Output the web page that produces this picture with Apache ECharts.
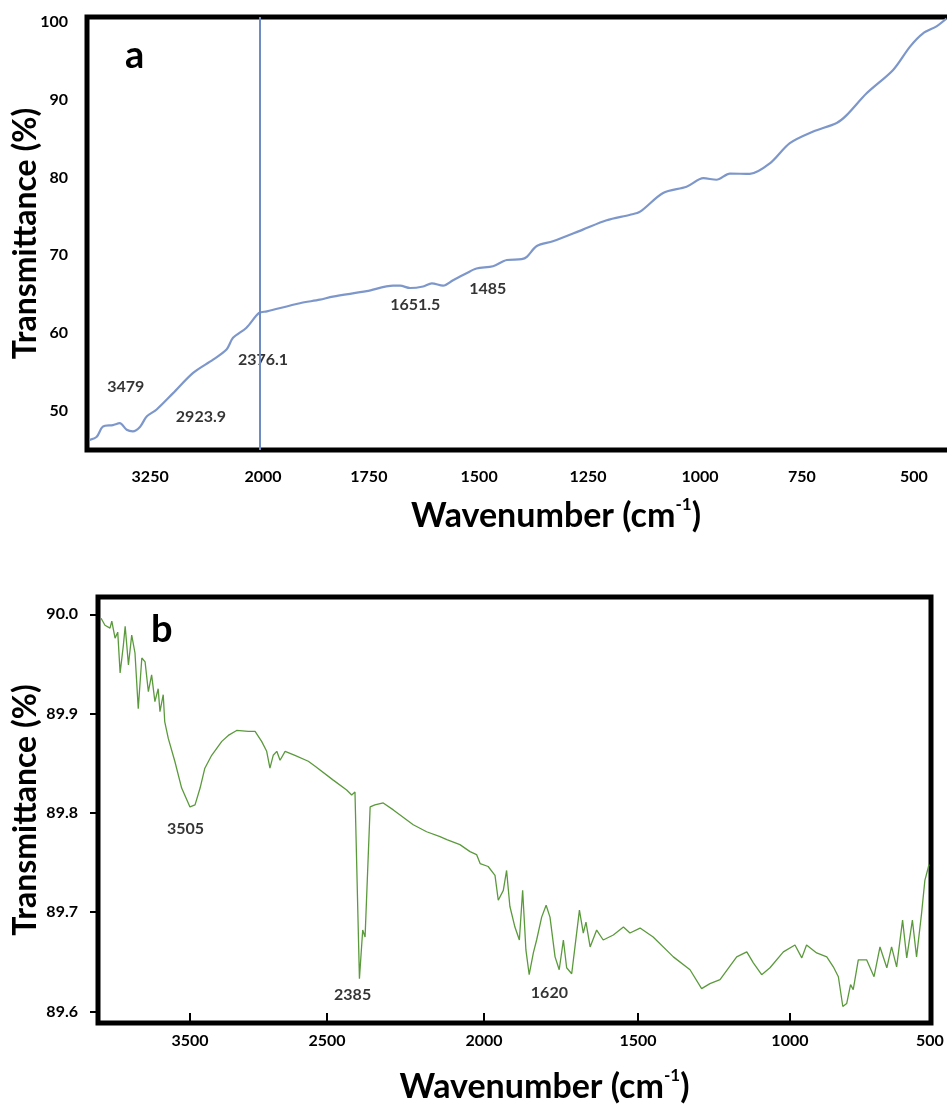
<!DOCTYPE html>
<html>
<head>
<meta charset="utf-8">
<script src="https://cdn.jsdelivr.net/npm/echarts@6/dist/echarts.min.js"></script>
<style>
html,body{margin:0;padding:0;background:#fff;}
#c{width:947px;height:1107px;}
</style>
</head>
<body>
<div id="c"></div>
<script>
// ---------- Panel a data (x in the panel's plotted wavenumber scale, y = transmittance %) ----------
var aX = [2399,2383,2369,2346,2330,2314,2300,2283,2268,2245,2207,2161,2115,2084,2069,2038,2009,1991,1915,1869,1839,1761,1700,1684,1661,1631,1611,1585,1562,1531,1508,1470,1438,1404,1392,1369,1332,1263,1208,1154,1131,1078,1024,985,955,924,878,832,786,732,678,655,609,548,509,479,448,425];
var aY = [46.3,46.7,48.0,48.2,48.45,47.6,47.4,48.0,49.3,50.2,52.3,54.9,56.6,57.9,59.4,60.7,62.6,62.8,63.85,64.3,64.7,65.4,66.1,66.1,65.8,66.0,66.4,66.1,66.8,67.7,68.3,68.6,69.4,69.5,69.8,71.2,71.8,73.3,74.5,75.2,75.6,78.0,78.8,79.9,79.7,80.5,80.45,81.8,84.4,85.9,87.0,88.0,90.8,93.8,96.8,98.5,99.4,100.4];
var aTickValues = [2260,2000,1756,1502,1251,993,758,500];
var aTickLabels = ['3250','2000','1750','1500','1250','1000','750','500'];
var aYTicks = [50,60,70,80,90,100];
var aMarkerLine = [2008];
var aPeakText = ['3479','2923.9','2376.1','1651.5','1485'];
var aPeakX = [2316,2143,2000,1649,1482];
var aPeakY = [53.17,49.26,56.64,63.63,65.69];

// ---------- Panel b data ----------
var bX = [3288,3275,3258,3252,3241,3232,3224,3213,3207,3196,3185,3174,3163,3151,3140,3129,3118,3107,3096,3090,3079,3074,3062,3040,3017,2989,2972,2955,2939,2916,2882,2860,2832,2793,2770,2748,2731,2720,2709,2697,2686,2669,2636,2591,2568,2507,2462,2445,2434,2419,2408,2400,2383,2367,2339,2305,2238,2193,2148,2125,2081,2047,2025,2013,1986,1963,1952,1935,1924,1913,1896,1881,1870,1859,1848,1834,1823,1806,1791,1778,1761,1747,1733,1722,1705,1694,1679,1666,1657,1643,1621,1599,1565,1531,1509,1475,1431,1363,1307,1268,1240,1206,1150,1116,1094,1066,1038,993,954,931,915,881,847,825,808,793,780,767,758,741,713,688,668,645,629,612,592,578,559,545,528,517,503];
var bY = [89.996,89.989,89.986,89.993,89.976,89.982,89.941,89.969,89.988,89.949,89.979,89.961,89.905,89.956,89.952,89.922,89.939,89.912,89.925,89.902,89.919,89.892,89.875,89.852,89.825,89.806,89.808,89.825,89.845,89.858,89.872,89.878,89.883,89.882,89.882,89.872,89.862,89.845,89.858,89.862,89.853,89.862,89.858,89.852,89.847,89.833,89.823,89.818,89.821,89.633,89.682,89.675,89.806,89.808,89.810,89.803,89.788,89.781,89.776,89.773,89.768,89.761,89.758,89.749,89.746,89.737,89.712,89.722,89.742,89.706,89.685,89.672,89.722,89.662,89.637,89.659,89.672,89.695,89.707,89.695,89.655,89.642,89.672,89.644,89.638,89.665,89.702,89.679,89.690,89.665,89.682,89.672,89.677,89.685,89.679,89.684,89.675,89.655,89.642,89.623,89.628,89.632,89.655,89.660,89.649,89.637,89.644,89.660,89.667,89.654,89.667,89.659,89.655,89.645,89.635,89.605,89.608,89.627,89.622,89.652,89.652,89.635,89.665,89.644,89.665,89.645,89.692,89.654,89.692,89.655,89.699,89.732,89.748];
var bTickValues = [2989,2528,2000,1482,971,500];
var bTickLabels = ['3500','2500','2000','1500','1000','500'];
var bYTicks = [89.6,89.7,89.8,89.9,90.0];
var bPeakText = ['3505','2385','1620'];
var bPeakX = [3004,2442,1780];
var bPeakY = [89.784,89.617,89.619];

function zip(xs, ys){ return xs.map(function(x,i){ return [x, ys[i]]; }); }
function peaks(txt, xs, ys){ return txt.map(function(t,i){ return {name:t, value:[xs[i], ys[i]]}; }); }
function mapLabel(vals, labs){ return function(v){ var i = vals.indexOf(v); return i < 0 ? '' : labs[i]; }; }

var FONT = 'Lato';
var nameRich = {
  n: {fontFamily: FONT, fontWeight: 'bold', fontSize: 34, color: '#000'},
  s: {fontFamily: FONT, fontWeight: 'bold', fontSize: 17, color: '#000', verticalAlign: 'top', lineHeight: 40}
};
var peakLabel = {show: true, position: 'inside', formatter: '{b}', fontFamily: FONT, fontWeight: 'bold',
                 fontSize: 16, color: '#000', textBorderWidth: 0};

var chart = echarts.init(document.getElementById('c'), null, {renderer: 'canvas'});
chart.setOption({
  backgroundColor: '#ffffff',
  animation: false,
  grid: [
    {left: 87, top: 17, width: 866, height: 433, show: true, borderColor: '#000', borderWidth: 5,
     backgroundColor: 'transparent', outerBoundsMode: 'none', containLabel: false},
    {left: 98, top: 597, width: 833, height: 426, show: true, borderColor: '#000', borderWidth: 5,
     backgroundColor: 'transparent', outerBoundsMode: 'none', containLabel: false}
  ],
  graphic: [
    {type: 'text', left: 125, top: 37, style: {text: 'a', font: 'bold 38px Lato', fill: '#000'}},
    {type: 'text', left: 151, top: 611, style: {text: 'b', font: 'bold 38px Lato', fill: '#000'}}
  ],
  xAxis: [
    {gridIndex: 0, type: 'value', inverse: true, min: 410, max: 2405.5,
     axisLine: {show: false}, axisTick: {show: false}, splitLine: {show: false},
     axisLabel: {customValues: aTickValues, formatter: mapLabel(aTickValues, aTickLabels), margin: 19,
                 fontFamily: FONT, fontWeight: 'bold', fontSize: 16, color: '#000'},
     name: '{n|Wavenumber (cm}{s|-1}{n|)}', nameLocation: 'middle', nameGap: 46, nameMoveOverlap: false,
     nameTextStyle: {padding: [0, 0, 0, 72], rich: nameRich}},
    {gridIndex: 1, type: 'value', inverse: true, min: 496.4, max: 3298.4,
     axisLine: {show: false}, splitLine: {show: false},
     axisTick: {show: true, inside: true, length: 10, customValues: bTickValues, lineStyle: {color: '#000', width: 2}},
     axisLabel: {customValues: bTickValues, formatter: mapLabel(bTickValues, bTickLabels), margin: 10,
                 fontFamily: FONT, fontWeight: 'bold', fontSize: 16, color: '#000'},
     name: '{n|Wavenumber (cm}{s|-1}{n|)}', nameLocation: 'middle', nameGap: 44, nameMoveOverlap: false,
     nameTextStyle: {padding: [0, 0, 0, 60], rich: nameRich}}
  ],
  yAxis: [
    {gridIndex: 0, type: 'value', min: 45, max: 100.6,
     axisLine: {show: false}, axisTick: {show: false}, splitLine: {show: false},
     axisLabel: {customValues: aYTicks, margin: 19, fontFamily: FONT, fontWeight: 'bold', fontSize: 16, color: '#000'},
     name: 'Transmittance (%)', nameLocation: 'middle', nameGap: 45, nameRotate: 90, nameMoveOverlap: false,
     nameTextStyle: {fontFamily: FONT, fontWeight: 'bold', fontSize: 32, color: '#000'}},
    {gridIndex: 1, type: 'value', min: 89.5884, max: 90.0174,
     axisLine: {show: false}, splitLine: {show: false},
     axisTick: {show: true, length: 8, customValues: bYTicks, lineStyle: {color: '#000', width: 2}},
     axisLabel: {customValues: bYTicks, formatter: function(v){ return v.toFixed(1); }, margin: 20,
                 fontFamily: FONT, fontWeight: 'bold', fontSize: 16, color: '#000'},
     name: 'Transmittance (%)', nameLocation: 'middle', nameGap: 56, nameRotate: 90, nameMoveOverlap: false,
     nameTextStyle: {fontFamily: FONT, fontWeight: 'bold', fontSize: 32, color: '#000'}}
  ],
  series: [
    {type: 'line', xAxisIndex: 0, yAxisIndex: 0, data: zip(aX, aY), showSymbol: false, smooth: 0.3,
     lineStyle: {color: '#7d97cb', width: 2.2},
     markLine: {symbol: 'none', silent: true, label: {show: false},
                lineStyle: {color: '#6f8cc2', width: 2, type: 'solid'},
                data: aMarkerLine.map(function(v){ return {xAxis: v}; })}},
    {type: 'scatter', xAxisIndex: 0, yAxisIndex: 0, symbolSize: 0, data: peaks(aPeakText, aPeakX, aPeakY),
     label: peakLabel},
    {type: 'line', xAxisIndex: 1, yAxisIndex: 1, data: zip(bX, bY), showSymbol: false,
     lineStyle: {color: '#5b9a3c', width: 1.3}},
    {type: 'scatter', xAxisIndex: 1, yAxisIndex: 1, symbolSize: 0, data: peaks(bPeakText, bPeakX, bPeakY),
     label: peakLabel}
  ]
});
</script>
</body>
</html>
